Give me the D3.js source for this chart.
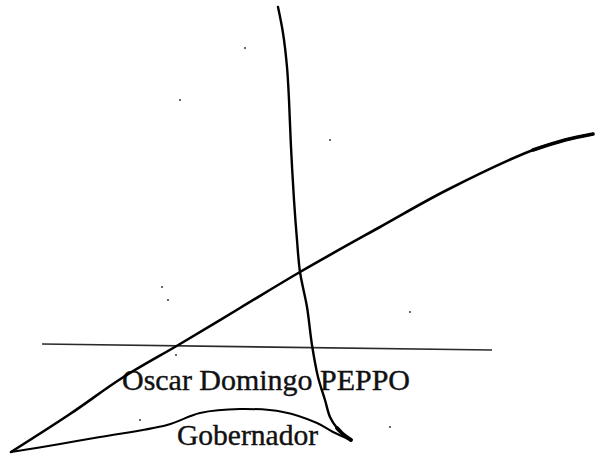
<!DOCTYPE html>
<html>
<head>
<meta charset="utf-8">
<script src="https://cdn.jsdelivr.net/npm/d3@7"></script>
<style>
  body { margin: 0; background: #fff; }
  svg { display: block; }
</style>
</head>
<body>
<svg></svg>
<script>
const size = {w: 603, h: 454};

// signature strokes (x, y in page units)
const verticalStroke = [[278, 7], [283, 33], [287, 67], [289, 100], [291, 147], [294, 200], [297, 240],
    [300, 272], [307, 307], [312, 345], [318, 377], [325, 400], [330, 417], [337, 428], [344, 435], [351, 440]];
const diagonalStroke = [[11, 452], [70, 414], [122, 378], [180, 344], [240, 308], [300, 272],
    [380, 227], [447, 190], [533, 150], [565, 140], [593, 134]];
const lowerStroke = [[11, 452], [60, 444], [100, 437], [167, 425], [200, 413], [240, 409],
    [283, 412], [317, 423], [333, 432], [351, 440]];
const signLine = [[42, 344], [492, 350]];
const specks = [[245, 48], [180, 100], [330, 140], [168, 300], [162, 287], [410, 312], [390, 427], [140, 420], [176, 355]];

const nameLabels = ['Oscar Domingo PEPPO', 'Gobernador'];
const labelPos = [[122, 390, 288], [177, 445, 141]];

const svg = d3.select('svg')
    .attr('width', size.w)
    .attr('height', size.h);

const x = d3.scaleLinear().domain([0, size.w]).range([0, size.w]);
const y = d3.scaleLinear().domain([0, size.h]).range([0, size.h]);

const line = d3.line()
    .x(d => x(d[0]))
    .y(d => y(d[1]))
    .curve(d3.curveCatmullRom.alpha(0.5));

const containerG = svg.append('g').classed('container', true);

containerG.append('path')
    .datum(signLine)
    .attr('d', d3.line().x(d => x(d[0])).y(d => y(d[1])))
    .attr('fill', 'none')
    .attr('stroke', '#2a2a2a')
    .attr('stroke-width', 1.6);

containerG.selectAll('text.name')
    .data(nameLabels)
    .join('text')
    .classed('name', true)
    .attr('x', (d, i) => x(labelPos[i][0]))
    .attr('y', (d, i) => y(labelPos[i][1]))
    .attr('textLength', (d, i) => labelPos[i][2])
    .attr('lengthAdjust', 'spacingAndGlyphs')
    .attr('font-family', '"Liberation Serif", "Times New Roman", serif')
    .attr('font-size', 30)
    .attr('fill', '#111')
    .attr('stroke', '#111')
    .attr('stroke-width', 0.4)
    .text(d => d);

const strokes = [
    {pts: diagonalStroke, w: 2.6},
    {pts: lowerStroke, w: 2.0},
    {pts: verticalStroke, w: 2.4}
];

containerG.selectAll('path.stroke')
    .data(strokes)
    .join('path')
    .classed('stroke', true)
    .attr('d', d => line(d.pts))
    .attr('fill', 'none')
    .attr('stroke', '#000')
    .attr('stroke-width', d => d.w)
    .attr('stroke-linecap', 'round')
    .attr('stroke-linejoin', 'round');

// thicker pen ends
containerG.append('path')
    .datum(diagonalStroke.slice(-3))
    .attr('d', line)
    .attr('fill', 'none')
    .attr('stroke', '#000')
    .attr('stroke-width', 3.6)
    .attr('stroke-linecap', 'round');

containerG.append('path')
    .datum(verticalStroke.slice(-3))
    .attr('d', line)
    .attr('fill', 'none')
    .attr('stroke', '#000')
    .attr('stroke-width', 4)
    .attr('stroke-linecap', 'round');

containerG.selectAll('circle.speck')
    .data(specks)
    .join('circle')
    .classed('speck', true)
    .attr('cx', d => x(d[0]))
    .attr('cy', d => y(d[1]))
    .attr('r', 0.9)
    .attr('fill', '#222');
</script>
</body>
</html>
